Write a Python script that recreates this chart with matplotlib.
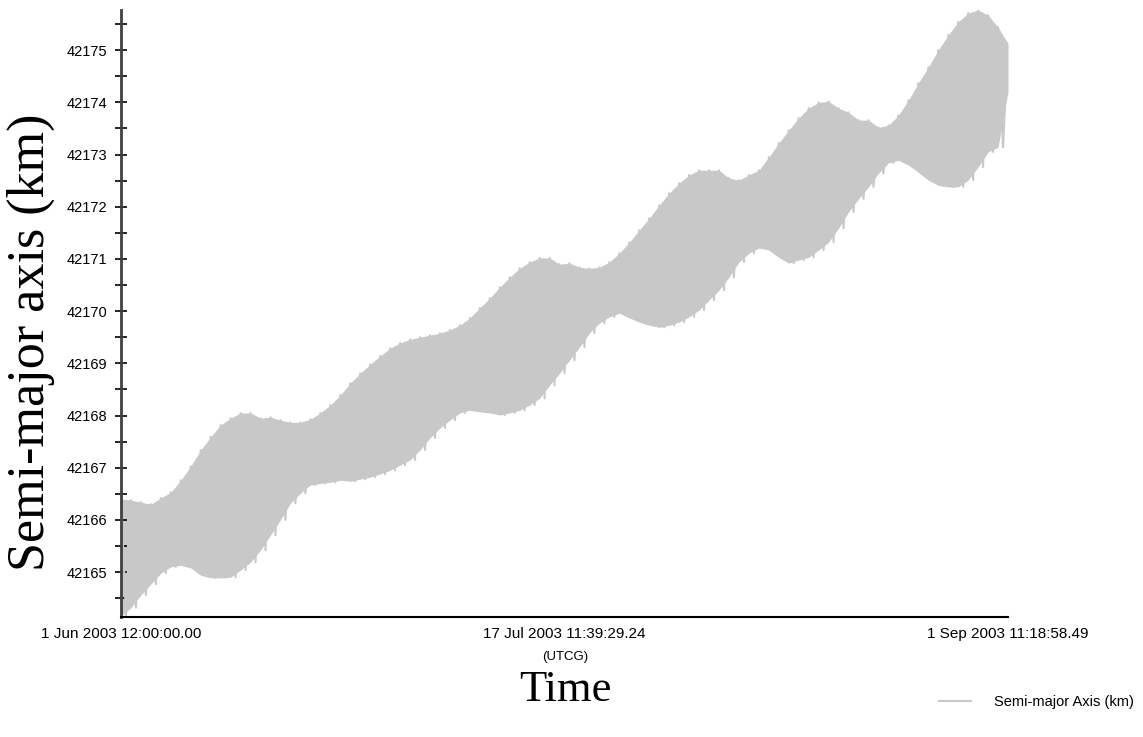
import numpy as np
import matplotlib
matplotlib.use("Agg")
import matplotlib.pyplot as plt

# ---- data ----
base_km = 42000.0
upper = [166.40, 166.38, 166.34, 166.30, 166.42, 166.53, 166.76, 167.03, 167.34, 167.59,
         167.82, 167.95, 168.05, 168.05, 167.95, 167.97, 167.91, 167.87, 167.87, 167.93,
         168.05, 168.20, 168.39, 168.62, 168.81, 168.98, 169.14, 169.29, 169.39, 169.46,
         169.50, 169.54, 169.58, 169.64, 169.73, 169.87, 170.06, 170.25, 170.46, 170.65,
         170.82, 170.94, 171.02, 171.02, 170.90, 170.92, 170.84, 170.82, 170.84, 170.94,
         171.11, 171.32, 171.55, 171.78, 172.03, 172.26, 172.45, 172.61, 172.70, 172.70,
         172.70, 172.55, 172.51, 172.61, 172.70, 172.95, 173.22, 173.47, 173.70, 173.89,
         174.00, 174.02, 173.89, 173.81, 173.66, 173.66, 173.52, 173.56, 173.75, 174.04,
         174.37, 174.67, 175.00, 175.29, 175.54, 175.71, 175.77, 175.67, 175.44, 175.13]
lower = [164.15, 164.32, 164.56, 164.77, 164.98, 165.10, 165.13, 165.08, 164.94, 164.89,
         164.89, 164.90, 165.04, 165.19, 165.42, 165.71, 166.00, 166.32, 166.51, 166.67,
         166.70, 166.72, 166.76, 166.74, 166.78, 166.82, 166.88, 166.95, 167.05, 167.15,
         167.34, 167.57, 167.76, 167.91, 168.05, 168.10, 168.07, 168.05, 168.01, 168.05,
         168.10, 168.20, 168.33, 168.58, 168.81, 169.06, 169.31, 169.58, 169.77, 169.89,
         169.96, 169.87, 169.79, 169.73, 169.69, 169.73, 169.79, 169.89, 170.02, 170.21,
         170.40, 170.65, 170.94, 171.11, 171.21, 171.17, 171.03, 170.92, 170.98, 171.03,
         171.17, 171.32, 171.59, 171.90, 172.15, 172.38, 172.64, 172.84, 172.89, 172.80,
         172.66, 172.51, 172.41, 172.38, 172.38, 172.51, 172.76, 173.05, 173.14, 174.20]
span_days = 91.9715          # 1 Jun 2003 12:00:00.00 -> 1 Sep 2003 11:18:58.49
tick_days = [0.0, 45.98576, 91.9715]
tick_labels = ["1 Jun 2003 12:00:00.00", "17 Jul 2003 11:39:29.24", "1 Sep 2003 11:18:58.49"]
y_major = list(range(42165, 42176))
y_limits = (42164.14, 42175.77)
series_name = "Semi-major Axis (km)"

# ---- build ----
upper_km = base_km + np.array(upper)
lower_km = base_km + np.array(lower)
n = len(upper_km)
t = np.linspace(0.0, span_days, n)
half = (t[1] - t[0]) / 2.0
zz_t = np.empty(2 * n)
zz_v = np.empty(2 * n)
zz_t[0::2] = t
zz_t[1::2] = np.minimum(t + half, span_days)
zz_v[0::2] = upper_km
zz_v[1::2] = lower_km

W, H = 1143, 737
fig = plt.figure(figsize=(W / 100, H / 100), dpi=100)
ax = fig.add_axes([121 / W, 1 - 617 / H, (1008 - 121) / W, (617 - 10) / H])

gray = "#C8C8C8"
ax.fill_between(t, lower_km, upper_km, color=gray, linewidth=0)
ax.plot(zz_t, zz_v, color=gray, linewidth=1.5, label=series_name)

ax.set_xlim(0, span_days)
ax.set_ylim(*y_limits)

ax.set_xticks(tick_days)
ax.set_xticklabels(tick_labels, fontfamily="Liberation Sans", fontsize=11)
ax.tick_params(axis="x", length=0, pad=7)

ax.set_yticks(y_major)
ax.set_yticklabels([str(v) for v in y_major], fontfamily="Liberation Sans", fontsize=10.5)
ax.set_yticks(np.arange(y_major[0] - 0.5, y_major[-1] + 1, 1.0), minor=True)
ax.tick_params(axis="y", which="both", direction="inout", length=8, width=1.2, pad=6, colors="black")

for s in ["top", "right"]:
    ax.spines[s].set_visible(False)
ax.spines["left"].set_color("#404040")
ax.spines["left"].set_linewidth(2)
ax.spines["bottom"].set_color("black")
ax.spines["bottom"].set_linewidth(1.5)

fig.text(31 / W, 1 - 342 / H, "Semi-major axis (km)", rotation=90, ha="center", va="center",
         fontfamily="Liberation Serif", fontsize=37.5)
fig.text(565 / W, 1 - 657 / H, "(UTCG)", ha="center", va="center",
         fontfamily="Liberation Sans", fontsize=9.5)
fig.text(565 / W, 1 - 690 / H, "Time", ha="center", va="center",
         fontfamily="Liberation Serif", fontsize=32)

leg = fig.legend(loc="center right", bbox_to_anchor=(1.0, 1 - 702 / H), frameon=False,
                 borderaxespad=0.2, prop={"family": "Liberation Sans", "size": 10.5},
                 handlelength=2.2, handletextpad=1.6)

fig.savefig("out.png", dpi=100)
